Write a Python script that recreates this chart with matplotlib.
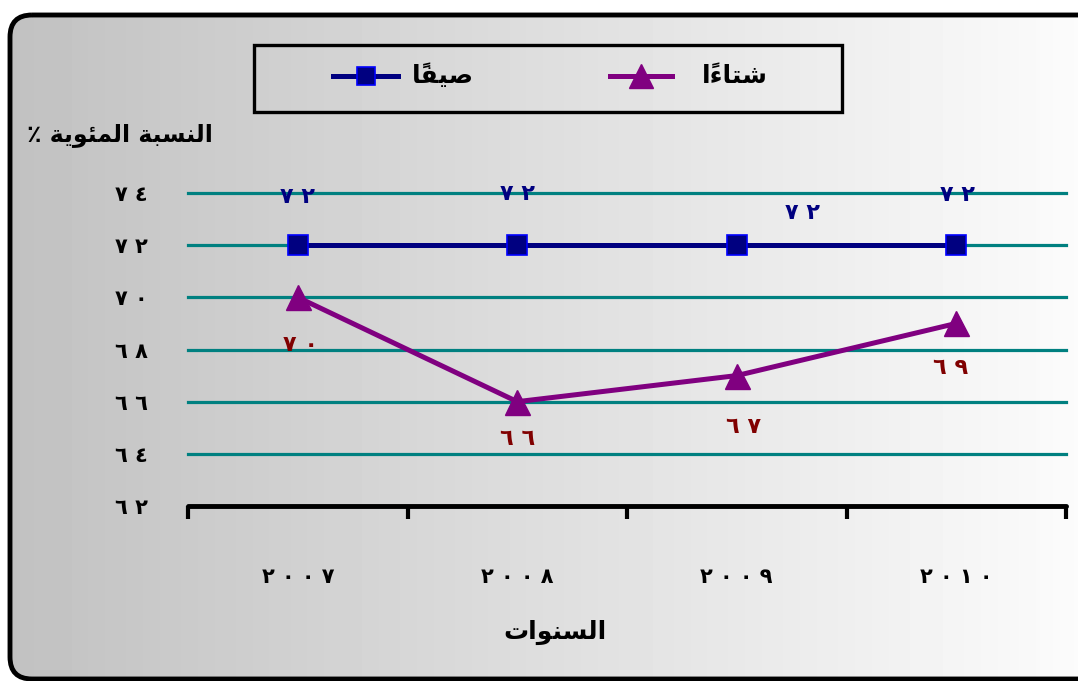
import numpy as np
import matplotlib
matplotlib.use("Agg")
import matplotlib.pyplot as plt
from matplotlib.patches import FancyBboxPatch, Rectangle
from matplotlib.lines import Line2D

# data
years = [2007, 2008, 2009, 2010]
summer = [72, 72, 72, 72]
winter = [70, 66, 67, 69]
yticks = [62, 64, 66, 68, 70, 72, 74]

summer_name = "صيفاً"
winter_name = "شتاءاً"
x_title = "السنوات"
y_title = "النسبة المئوية ٪"

# label offsets (points) for the value labels
summer_off = [(0, 35), (0, 37), (47, 23), (1, 36)]
winter_off = [(2, -34), (0, -27), (5, -37), (-4, -32)]

# --- minimal arabic shaping (matplotlib has no bidi / joining) ---
FORMS = {
    'ا': ('\uFE8D', '\uFE8E', None, None),
    'ب': ('\uFE8F', '\uFE90', '\uFE91', '\uFE92'),
    'ة': ('\uFE93', '\uFE94', None, None),
    'ت': ('\uFE95', '\uFE96', '\uFE97', '\uFE98'),
    'س': ('\uFEB1', '\uFEB2', '\uFEB3', '\uFEB4'),
    'ش': ('\uFEB5', '\uFEB6', '\uFEB7', '\uFEB8'),
    'ص': ('\uFEB9', '\uFEBA', '\uFEBB', '\uFEBC'),
    'ف': ('\uFED1', '\uFED2', '\uFED3', '\uFED4'),
    'ل': ('\uFEDD', '\uFEDE', '\uFEDF', '\uFEE0'),
    'م': ('\uFEE1', '\uFEE2', '\uFEE3', '\uFEE4'),
    'ن': ('\uFEE5', '\uFEE6', '\uFEE7', '\uFEE8'),
    'و': ('\uFEED', '\uFEEE', None, None),
    'ي': ('\uFEF1', '\uFEF2', '\uFEF3', '\uFEF4'),
    'ئ': ('\uFE89', '\uFE8A', '\uFE8B', '\uFE8C'),
    'ء': ('\uFE80', None, None, None),
}


def is_mark(c):
    return '\u064B' <= c <= '\u0652'


def shape(s):
    clusters = []
    for c in s:
        if is_mark(c) and clusters:
            clusters[-1].append(c)
        else:
            clusters.append([c])
    bases = [cl[0] for cl in clusters]
    out = []
    for i, cl in enumerate(clusters):
        c = cl[0]
        f = FORMS.get(c)
        if f is None:
            out.append(cl)
            continue
        prev = bases[i - 1] if i > 0 else None
        nxt = bases[i + 1] if i < len(bases) - 1 else None
        jp = prev in FORMS and FORMS[prev][2] is not None and f[1] is not None
        jn = nxt in FORMS and f[2] is not None and FORMS[nxt][1] is not None
        if jp and jn:
            g = f[3]
        elif jp:
            g = f[1]
        elif jn:
            g = f[2]
        else:
            g = f[0]
        out.append([g] + cl[1:])
    return ''.join(''.join(cl) for cl in out[::-1])


def ar_num(n):
    d = '٠١٢٣٤٥٦٧٨٩'
    return ' '.join(d[int(ch)] for ch in str(n))


plt.rcParams['font.family'] = ['DejaVu Sans']
plt.rcParams['font.weight'] = 'bold'

W, H = 1078, 681
fig = plt.figure(figsize=(W / 100, H / 100), dpi=100)
fig.patch.set_facecolor('white')

# background gradient inside rounded frame
bg = fig.add_axes([0, 0, 1, 1], zorder=-10)
bg.set_xlim(0, W)
bg.set_ylim(H, 0)
bg.axis('off')
grad = np.linspace(0.755, 0.985, 256)[None, :]
im = bg.imshow(grad, cmap='gray', vmin=0, vmax=1, extent=(0, W, H, 0), aspect='auto')
frame = FancyBboxPatch((10, 15), 1100, 664, boxstyle="round,pad=0,rounding_size=22",
                       facecolor='none', edgecolor='black', linewidth=3.5)
bg.add_patch(frame)
im.set_clip_path(frame)

# main axes
ax = fig.add_axes([188 / W, 1 - 506 / H, (1066 - 188) / W, (506 - 193) / H])
ax.set_facecolor('none')
x = np.arange(len(years))

ax.plot(x, summer, color='#000080', lw=3.6, marker='s', ms=15,
        mfc='#000080', mec='#0000FF', mew=1.2, zorder=4, clip_on=False)
ax.plot(x, winter, color='#800080', lw=3.6, marker='^', ms=18,
        mfc='#800080', mec='#800080', zorder=4, clip_on=False)

for i in range(len(years)):
    ax.annotate(ar_num(summer[i]), (x[i], summer[i]), xytext=summer_off[i],
                textcoords='offset points', ha='center', va='center',
                fontsize=16, color='#000080', fontweight='bold')
    ax.annotate(ar_num(winter[i]), (x[i], winter[i]), xytext=winter_off[i],
                textcoords='offset points', ha='center', va='center',
                fontsize=16, color='#800000', fontweight='bold')

ax.set_xlim(-0.5, len(years) - 0.5)
ax.set_ylim(yticks[0], yticks[-1])
ax.set_yticks(yticks)
ax.set_yticklabels([ar_num(v) for v in yticks], fontsize=15, fontweight='bold')
ax.set_xticks(x)
ax.set_xticklabels([ar_num(v) for v in years], fontsize=15, fontweight='bold')
ax.set_xticks(np.arange(-0.5, len(years)), minor=True)
ax.tick_params(axis='x', which='major', length=0, pad=44)
ax.tick_params(axis='x', which='minor', length=9, width=3, direction='out')
ax.tick_params(axis='y', length=0, pad=29)
ax.yaxis.grid(True, color='#008080', lw=2.3)
for gl in ax.get_ygridlines():
    gl.set_clip_on(False)
ax.set_axisbelow(True)
for s in ['left', 'right', 'top']:
    ax.spines[s].set_visible(False)
ax.spines['bottom'].set_linewidth(3.5)
ax.spines['bottom'].set_capstyle('round')

ax.set_xlabel(shape(x_title), fontsize=18, fontweight='bold')
ax.xaxis.set_label_coords((555 - 188) / 878, -(632 - 506) / 313)
ax.xaxis.label.set_va('center')
ax.set_ylabel(shape(y_title), fontsize=17, fontweight='bold', rotation=0)
ax.yaxis.set_label_coords((120 - 188) / 878, (506 - 135) / 313)
ax.yaxis.label.set_va('center')
ax.yaxis.label.set_ha('center')

# legend box
fig.add_artist(Rectangle((254 / W, 1 - 112 / H), (842 - 254) / W, 67 / H,
                         transform=fig.transFigure, facecolor='none',
                         edgecolor='black', lw=2.4))
ly = 1 - 76 / H
fig.add_artist(Line2D([333 / W, 398 / W], [ly, ly], transform=fig.transFigure,
                      color='#000080', lw=3.6))
fig.add_artist(Line2D([365.5 / W], [ly], transform=fig.transFigure, marker='s', ms=13,
                      mfc='#000080', mec='#0000FF', mew=1.2))
fig.text(412 / W, ly, shape(summer_name), fontsize=18, fontweight='bold', va='center', ha='left')
fig.add_artist(Line2D([610 / W, 672 / W], [ly, ly], transform=fig.transFigure,
                      color='#800080', lw=3.6))
fig.add_artist(Line2D([641 / W], [ly], transform=fig.transFigure, marker='^', ms=17,
                      mfc='#800080', mec='#800080'))
fig.text(702 / W, ly, shape(winter_name), fontsize=18, fontweight='bold', va='center', ha='left')

fig.savefig('out.png', dpi=100)
